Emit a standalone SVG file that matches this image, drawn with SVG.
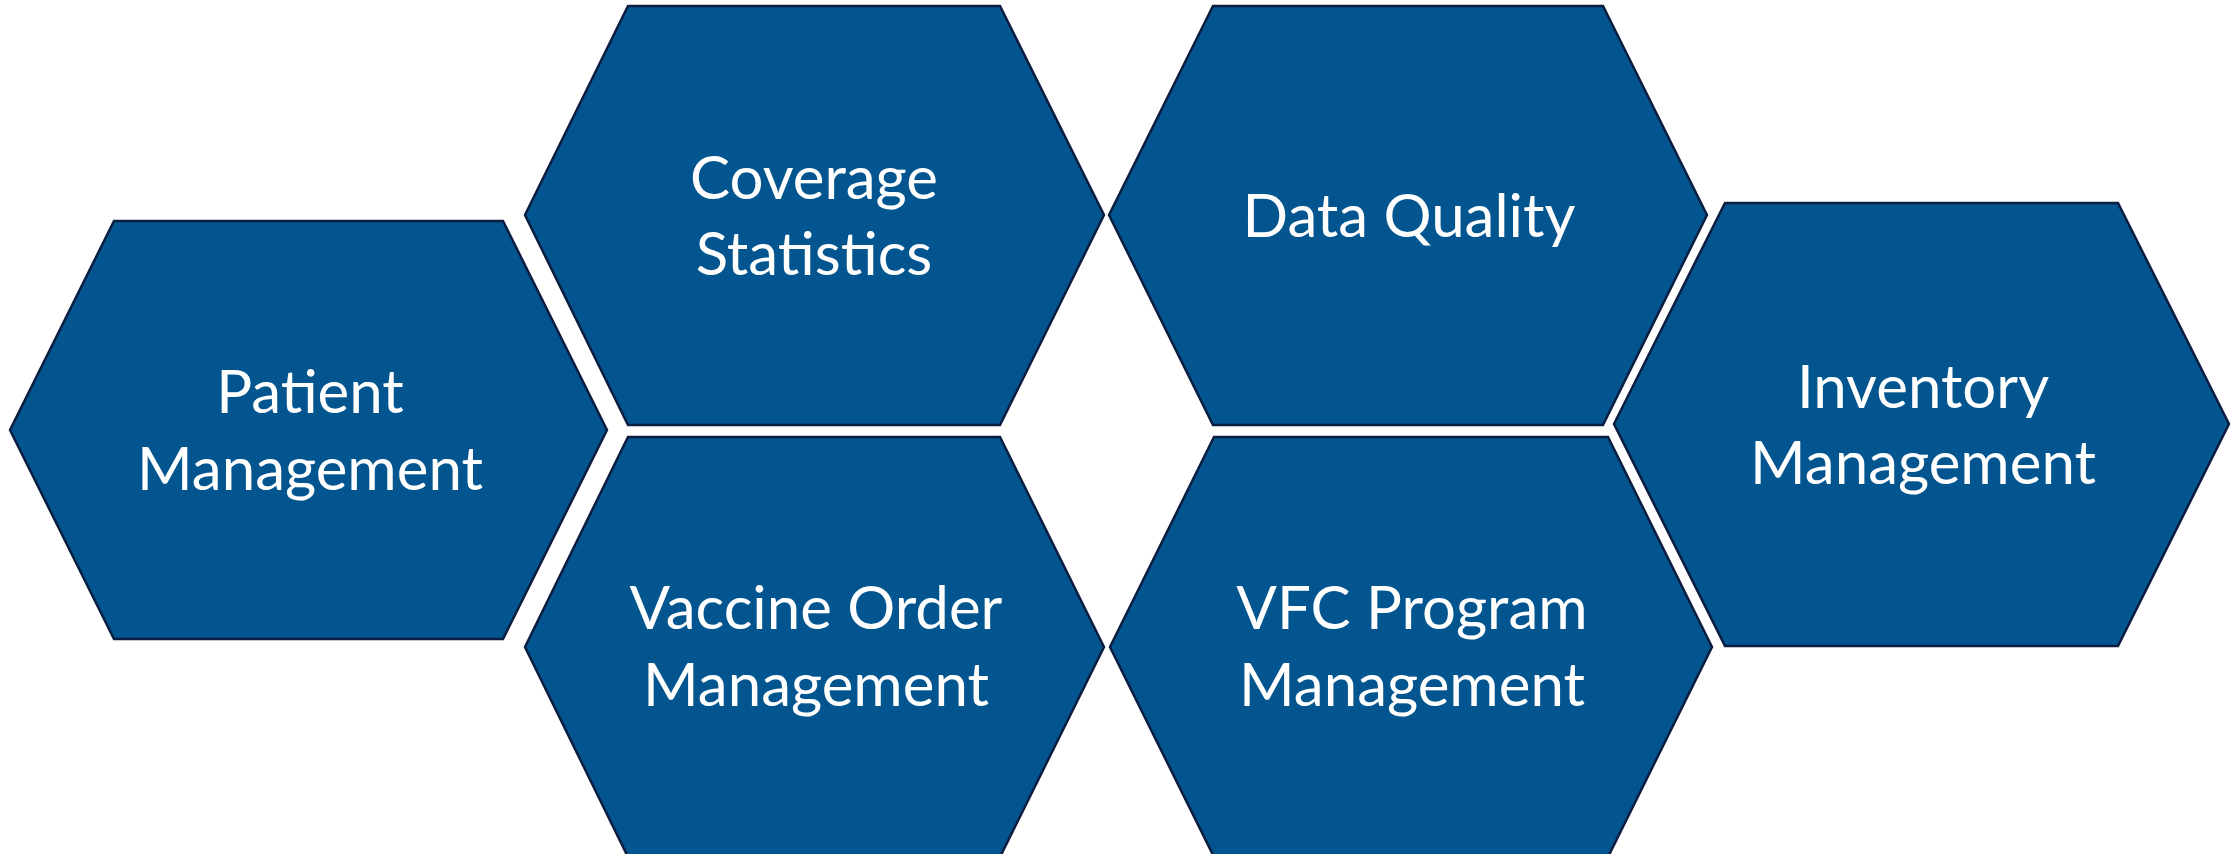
<svg xmlns="http://www.w3.org/2000/svg" width="2231" height="854" viewBox="0 0 2231 854">
<style>
.hex{fill:#03558F;stroke:#0B1D40;stroke-width:2.5;stroke-linejoin:miter}
.lbl{font-family:Lato,"Open Sans","Liberation Sans",sans-serif;font-size:60px;fill:#FFFFFF;text-anchor:middle}
</style>
<rect width="2231" height="854" fill="#FFFFFF"/>
<g id="patient-management">
<polygon class="hex" points="114,221 503,221 607,430 503,639 114,639 10,430"/>
<text class="lbl" x="310" y="413">Patient</text>
<text class="lbl" x="310" y="490">Management</text>
</g>
<g id="coverage-statistics">
<polygon class="hex" points="628,6 1000,6 1104,215 1000,425 628,425 525,215"/>
<text class="lbl" x="814" y="199">Coverage</text>
<text class="lbl" x="814" y="275">Statistics</text>
</g>
<g id="data-quality">
<polygon class="hex" points="1213,6 1603,6 1707,215 1603,425 1213,425 1109,215"/>
<text class="lbl" x="1409" y="237">Data Quality</text>
</g>
<g id="inventory-management">
<polygon class="hex" points="1725,203 2118,203 2229,424 2118,646 1725,646 1614,424"/>
<text class="lbl" x="1923" y="408">Inventory</text>
<text class="lbl" x="1923" y="484">Management</text>
</g>
<g id="vaccine-order-management">
<polygon class="hex" points="628,437 1000,437 1104,647 1000,857 628,857 525,647"/>
<text class="lbl" x="816" y="629">Vaccine Order</text>
<text class="lbl" x="816" y="706">Management</text>
</g>
<g id="vfc-program-management">
<polygon class="hex" points="1214,437 1608,437 1712,647 1608,857 1214,857 1110,647"/>
<text class="lbl" x="1412" y="629">VFC Program</text>
<text class="lbl" x="1412" y="706">Management</text>
</g>
<g id="connectors"></g>
</svg>
